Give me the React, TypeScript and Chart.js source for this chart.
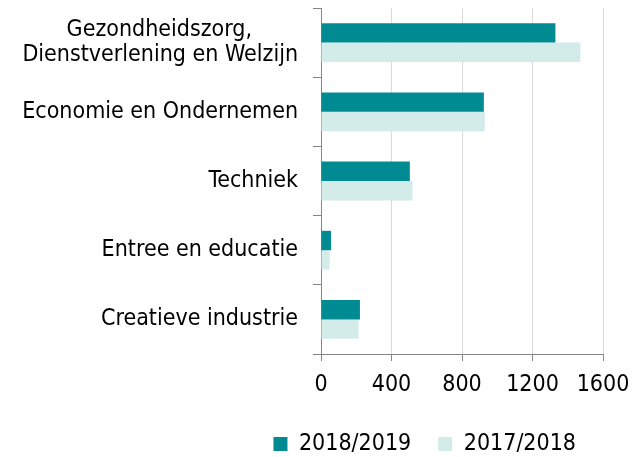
import React, { useEffect, useRef } from "react";
import { Chart, registerables } from "chart.js";

Chart.register(...registerables);

const categories: (string | string[])[] = [
  ["Gezondheidszorg,", "Dienstverlening en Welzijn"],
  "Economie en Ondernemen",
  "Techniek",
  "Entree en educatie",
  "Creatieve industrie",
];
const values2018_2019 = [1330, 924, 504, 57, 221];
const values2017_2018 = [1472, 929, 519, 49, 213];
const seriesNames = ["2018/2019", "2017/2018"];
const xTicks = [0, 400, 800, 1200, 1600];

const FONT = "'DejaVu Sans Condensed', 'DejaVu Sans', sans-serif";
const FONT_SIZE = 23;

export default function App() {
  const ref = useRef<HTMLCanvasElement | null>(null);
  useEffect(() => {
    if (!ref.current) return;
    const chart = new Chart(ref.current, {
      type: "bar",
      data: {
        labels: categories,
        datasets: [
          {
            label: seriesNames[0],
            data: values2018_2019,
            backgroundColor: "#008B93",
            borderWidth: 0,
            categoryPercentage: 0.56,
            barPercentage: 1,
          },
          {
            label: seriesNames[1],
            data: values2017_2018,
            backgroundColor: "#D3ECE9",
            borderWidth: 0,
            categoryPercentage: 0.56,
            barPercentage: 1,
          },
        ],
      },
      options: {
        indexAxis: "y",
        responsive: false,
        animation: false,
        layout: { padding: { left: 0, right: 38, top: 8, bottom: -8.5 } },
        plugins: {
          tooltip: { enabled: false },
          legend: {
            position: "bottom",
            align: "end",
            labels: {
              boxWidth: 14,
              boxHeight: 14,
              padding: 27,
              color: "#000",
              font: { family: FONT, size: FONT_SIZE },
            },
          },
        },
        scales: {
          x: {
            min: xTicks[0],
            max: xTicks[xTicks.length - 1],
            afterBuildTicks: (scale: any) => {
              scale.ticks = xTicks.map((v) => ({ value: v }));
            },
            afterFit: (scale: any) => {
              scale.height = 51.5;
              scale.paddingLeft = 0;
              scale.paddingRight = 0;
            },
            grid: {
              color: "#D9D9D9",
              tickColor: "#868686",
              tickLength: 7,
              lineWidth: 1,
            },
            border: { color: "#868686", width: 1 },
            ticks: {
              color: "#000",
              padding: 10,
              maxRotation: 0,
              font: { family: FONT, size: FONT_SIZE },
              callback: (v: any) => String(v),
            },
          },
          y: {
            afterFit: (scale: any) => {
              scale.width = 321;
              scale.paddingTop = 0;
              scale.paddingBottom = 0;
            },
            grid: {
              drawOnChartArea: false,
              tickColor: "#868686",
              tickLength: 8,
              offset: true,
            },
            border: { color: "#868686", width: 1 },
            ticks: {
              color: "#000",
              padding: 15,
              autoSkip: false,
              font: { family: FONT, size: FONT_SIZE, lineHeight: 1.12 },
              callback: function (this: any, _value: any, index: number) {
                const lbl = categories[index];
                if (!Array.isArray(lbl)) return lbl;
                const ctx = this.ctx as CanvasRenderingContext2D;
                ctx.save();
                ctx.font = `${FONT_SIZE}px ${FONT}`;
                const widths = lbl.map((s) => ctx.measureText(s).width);
                const sp = ctx.measureText(" ").width || 6;
                ctx.restore();
                const max = Math.max(...widths);
                return lbl.map((s, i) => s + " ".repeat(Math.max(0, Math.round((max - widths[i]) / 2 / sp))));
              },
            },
          },
        },
      },
    });
    return () => chart.destroy();
  }, []);
  return (
    <div style={{ position: "absolute", left: 0, top: 0, width: 641, height: 457, background: "#fff" }}>
      <canvas ref={ref} width={641} height={457} style={{ width: 641, height: 457 }} />
    </div>
  );
}
